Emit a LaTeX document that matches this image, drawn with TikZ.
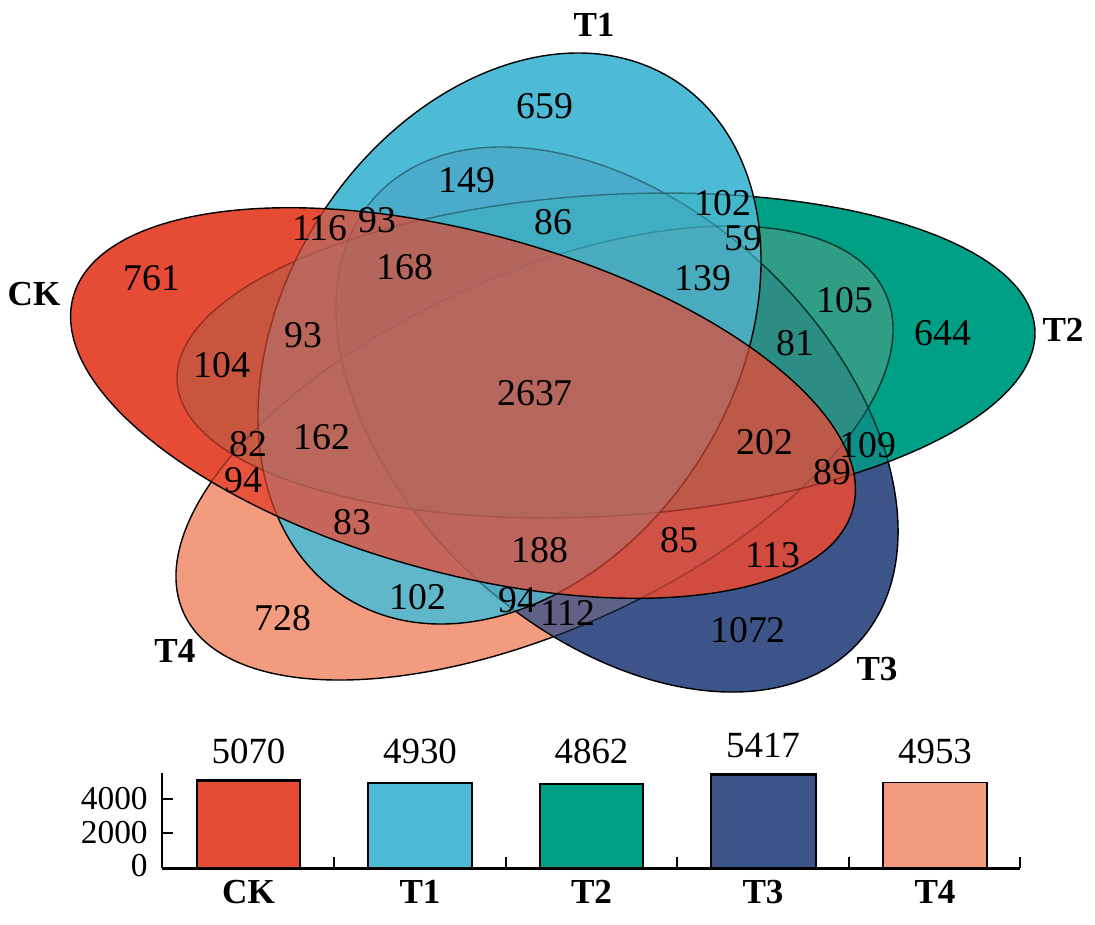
\documentclass[tikz,border=0pt]{standalone}
\usepackage{fontspec}
\setmainfont{Liberation Serif}
\definecolor{colCK}{HTML}{E64B35}
\definecolor{colTa}{HTML}{4DBBD5}
\definecolor{colTb}{HTML}{00A087}
\definecolor{colTc}{HTML}{3C5488}
\definecolor{colTd}{HTML}{F39B7F}
\begin{document}
\begin{tikzpicture}[x=0.02cm, y=-0.02cm,
  num/.style={font=\fontsize{21.5}{24}\selectfont, inner sep=0pt},
  setname/.style={font=\fontsize{20}{24}\selectfont\bfseries, inner sep=0pt},
  barnum/.style={font=\fontsize{21}{24}\selectfont, inner sep=0pt},
  ticknum/.style={font=\fontsize{19}{22}\selectfont, inner sep=0pt, anchor=east},
  tint/.style={draw=black, line width=0.8pt}]
\useasboundingbox (0,0) rectangle (1095,924);
\fill[colTd, rotate around={24.5:(534.5,453)}] (534.5,453) ellipse [x radius=385.6, y radius=177.1];
\fill[colTc, rotate around={-42.85:(617,419.5)}] (617,419.5) ellipse [x radius=328.7, y radius=212.6];
\fill[colTb, rotate around={3.5:(606,355.5)}] (606,355.5) ellipse [x radius=429.7, y radius=160.6];
\fill[colTa, rotate around={57.5:(509.5,338.5)}] (509.5,338.5) ellipse [x radius=306.5, y radius=225.4];
\fill[colCK, rotate around={-15.2:(463,403)}] (463,403) ellipse [x radius=404, y radius=170];
\filldraw[tint, fill=colTd, fill opacity=0.3, rotate around={24.5:(534.5,453)}] (534.5,453) ellipse [x radius=385.6, y radius=177.1];
\filldraw[tint, fill=colTc, fill opacity=0.35, rotate around={-42.85:(617,419.5)}] (617,419.5) ellipse [x radius=328.7, y radius=212.6];
\filldraw[tint, fill=colTb, fill opacity=0.35, rotate around={3.5:(606,355.5)}] (606,355.5) ellipse [x radius=429.7, y radius=160.6];
\filldraw[tint, fill=colTa, fill opacity=0.6, rotate around={57.5:(509.5,338.5)}] (509.5,338.5) ellipse [x radius=306.5, y radius=225.4];
\filldraw[tint, fill=colCK, fill opacity=0.65, rotate around={-15.2:(463,403)}] (463,403) ellipse [x radius=404, y radius=170];
\node[setname] (lT1) at (594,25) {T1};
\node[setname] (lCK) at (34,294) {CK};
\node[setname] (lT2) at (1063,330) {T2};
\node[setname] (lT3) at (877,669) {T3};
\node[setname] (lT4) at (175,651) {T4};
\node[num] (n659) at (545,106) {659};
\node[num] (n149) at (467,180) {149};
\node[num] (n116) at (320,228) {116};
\node[num] (n93a) at (377,220) {93};
\node[num] (n86) at (553,222) {86};
\node[num] (n102a) at (723,203) {102};
\node[num] (n59) at (743,238) {59};
\node[num] (n168) at (405,267) {168};
\node[num] (n139) at (703,278) {139};
\node[num] (n761) at (152,278) {761};
\node[num] (n105) at (845,300) {105};
\node[num] (n644) at (943,333) {644};
\node[num] (n93b) at (303,335) {93};
\node[num] (n81) at (795,343) {81};
\node[num] (n104) at (222,365) {104};
\node[num] (n2637) at (535,393) {2637};
\node[num] (n162) at (322,437) {162};
\node[num] (n82) at (248,444) {82};
\node[num] (n202) at (765,442) {202};
\node[num] (n109) at (868,445) {109};
\node[num] (n94a) at (243,480) {94};
\node[num] (n89) at (832,472) {89};
\node[num] (n83) at (352,522) {83};
\node[num] (n188) at (540,550) {188};
\node[num] (n85) at (679,540) {85};
\node[num] (n113) at (773,555) {113};
\node[num] (n102b) at (418,597) {102};
\node[num] (n94b) at (517,600) {94};
\node[num] (n112) at (568,613) {112};
\node[num] (n728) at (283,618) {728};
\node[num] (n1072) at (748,630) {1072};
\coordinate (origin) at (162,868);
\coordinate (ytop) at (162,773);
\coordinate (xend) at (1020,868);
\draw[line width=1.1pt] (ytop) -- (origin);
\draw[line width=0.9pt] (162,799) -- (173,799);
\draw[line width=0.9pt] (162,833) -- (173,833);
\foreach \tx in {334,506,677,849,1020}
  \draw[line width=0.9pt] (\tx,868) -- (\tx,857);
\draw[fill=colCK, line width=1.3pt] (197,868) rectangle (300,780.5);
\draw[fill=colTa, line width=0.8pt] (368,868) rectangle (472,783);
\draw[fill=colTb, line width=1.1pt] (540,868) rectangle (643,784);
\draw[fill=colTc, line width=1.4pt] (711,868) rectangle (816,774.6);
\draw[fill=colTd, line width=0.8pt] (883,868) rectangle (987,782.6);
\draw[line width=1.7pt] (origin) -- (xend);
\node[ticknum] (y4000) at (148,799) {4000};
\node[ticknum] (y2000) at (148,833) {2000};
\node[ticknum] (y0) at (148,866) {0};
\node[barnum] (vCK) at (248.5,751) {5070};
\node[barnum] (vT1) at (420,751) {4930};
\node[barnum] (vT2) at (591.5,751) {4862};
\node[barnum] (vT3) at (763,745) {5417};
\node[barnum] (vT4) at (935,751) {4953};
\node[setname] (bCK) at (248.5,892) {CK};
\node[setname] (bT1) at (420,892) {T1};
\node[setname] (bT2) at (591.5,892) {T2};
\node[setname] (bT3) at (763,892) {T3};
\node[setname] (bT4) at (935,892) {T4};
\end{tikzpicture}
\end{document}
